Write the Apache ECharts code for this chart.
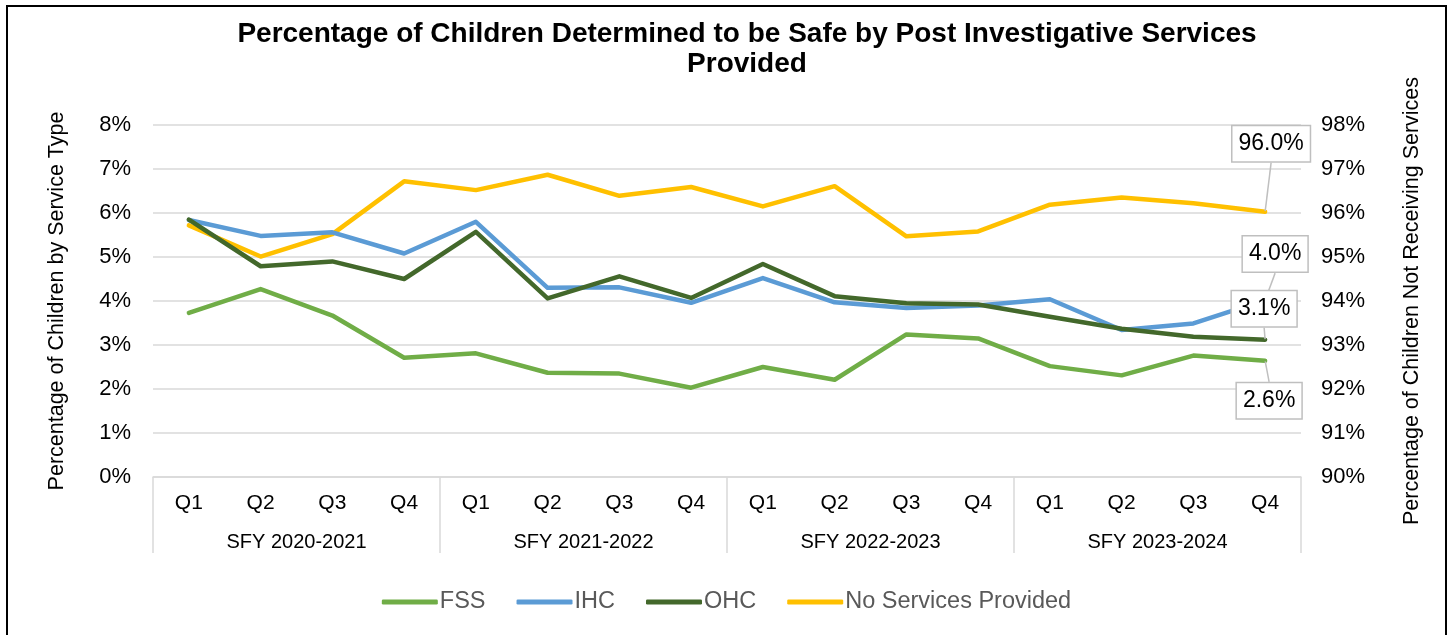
<!DOCTYPE html>
<html>
<head>
<meta charset="utf-8">
<script src="https://cdn.jsdelivr.net/npm/echarts@6/dist/echarts.min.js"></script>
<style>
html,body{margin:0;padding:0;background:#fff;}
#wrap{position:relative;width:1453px;height:635px;overflow:hidden;}
#chart{position:absolute;left:0;top:0;width:1453px;height:635px;}
#frame{position:absolute;left:6px;top:5px;width:1441px;height:660px;border:2px solid #000;box-sizing:border-box;pointer-events:none;}
</style>
</head>
<body>
<div id="wrap"><div id="chart"></div><div id="frame"></div></div>
<script>
const quarters = ['Q1','Q2','Q3','Q4','Q1','Q2','Q3','Q4','Q1','Q2','Q3','Q4','Q1','Q2','Q3','Q4'];
const fiscalYears = ['SFY 2020-2021','SFY 2021-2022','SFY 2022-2023','SFY 2023-2024'];
const leftTicks = [0, 8, 1];   // min, max, interval (%)
const rightTicks = [90, 98, 1];
const fss = [3.73, 4.27, 3.67, 2.71, 2.81, 2.37, 2.35, 2.03, 2.50, 2.21, 3.24, 3.15, 2.52, 2.31, 2.76, 2.64];
const ihc = [5.84, 5.48, 5.56, 5.08, 5.80, 4.30, 4.31, 3.96, 4.52, 3.97, 3.84, 3.90, 4.04, 3.34, 3.49, 4.02];
const ohc = [5.85, 4.79, 4.90, 4.50, 5.57, 4.06, 4.56, 4.07, 4.84, 4.11, 3.95, 3.92, 3.64, 3.37, 3.19, 3.12];
const noServices = [95.72, 95.01, 95.52, 96.72, 96.52, 96.87, 96.39, 96.59, 96.15, 96.61, 95.47, 95.58, 96.19, 96.35, 96.22, 96.03];

const FONT = '"Liberation Sans", Arial, sans-serif';
const GRID = '#d9d9d9';

function lastLabelData(arr){
  return arr.map((v,i)=> i===arr.length-1 ? {value:v, label:{show:true}} : v);
}
const labelBox = {
  show:false, position:'inside', formatter: p => p.value.toFixed(1)+'%',
  fontFamily: FONT, fontSize: 23, color:'#000', backgroundColor:'#fff',
  borderColor:'#bfbfbf', borderWidth:1.5, padding:[7,6,5,6]
};
function mkSeries(name, data, color, yIdx, dx, dy, z){
  return {
    name, type:'line', data:lastLabelData(data), yAxisIndex:yIdx, xAxisIndex:0,
    symbol:'circle', symbolSize:1, showSymbol:true,
    itemStyle:{color}, lineStyle:{color, width:4.5, cap:'round', join:'round'},
    label: Object.assign({}, labelBox),
    labelLayout: {dx, dy, hideOverlap:false},
    labelLine: {show:true, lineStyle:{color:'#bfbfbf', width:1.5}},
    z, animation:false, emphasis:{disabled:true}
  };
}

const chart = echarts.init(document.getElementById('chart'), null, {renderer:'canvas'});
chart.setOption({
  animation:false,
  title:{
    text:'Percentage of Children Determined to be Safe by Post Investigative Services\nProvided',
    left:742, textAlign:'center', top:14,
    textStyle:{fontFamily:FONT, fontWeight:'bold', fontSize:28, color:'#000', lineHeight:30}
  },
  legend:{
    bottom:16, left:'center', itemWidth:56, itemHeight:5, itemGap:31, icon:'roundRect',
    textStyle:{fontFamily:FONT, fontSize:23.5, color:'#595959', padding:[0,0,0,-3]},
    data:['FSS','IHC','OHC','No Services Provided']
  },
  grid:{left:153, right:152, top:125, bottom:158},
  xAxis:[
    {type:'category', data:quarters, position:'bottom', boundaryGap:true,
     axisLine:{show:false}, axisTick:{show:false},
     axisLabel:{interval:0, margin:16, fontFamily:FONT, fontSize:21, color:'#000'}},
    {type:'category', data:fiscalYears, position:'bottom', boundaryGap:true,
     axisLine:{show:true, lineStyle:{color:GRID, width:1.5}},
     axisTick:{show:true, length:76, interval:0, lineStyle:{color:GRID, width:1.5}},
     axisLabel:{interval:0, margin:55, fontFamily:FONT, fontSize:20, color:'#000'}}
  ],
  yAxis:[
    {type:'value', min:leftTicks[0], max:leftTicks[1], interval:leftTicks[2], position:'left',
     name:'Percentage of Children by Service Type', nameLocation:'middle', nameGap:85,
     nameTextStyle:{fontFamily:FONT, fontSize:21.5, color:'#000'},
     axisLine:{show:false}, axisTick:{show:false},
     splitLine:{show:true, lineStyle:{color:GRID, width:1.5}},
     axisLabel:{formatter:'{value}%', margin:22, fontFamily:FONT, fontSize:22, color:'#000'}},
    {type:'value', min:rightTicks[0], max:rightTicks[1], interval:rightTicks[2], position:'right',
     name:'Percentage of Children Not Receiving Services', nameLocation:'middle', nameGap:100,
     nameRotate:90,
     nameTextStyle:{fontFamily:FONT, fontSize:21.5, color:'#000'},
     axisLine:{show:false}, axisTick:{show:false}, splitLine:{show:false},
     axisLabel:{formatter:'{value}%', margin:20, fontFamily:FONT, fontSize:22, color:'#000'}}
  ],
  series:[
    mkSeries('FSS', fss, '#70AD47', 0, 4, 40, 3),
    mkSeries('IHC', ihc, '#5B9BD5', 0, 10, -46, 4),
    mkSeries('OHC', ohc, '#43682B', 0, -1, -31, 5),
    mkSeries('No Services Provided', noServices, '#FFC000', 1, 6, -68, 2)
  ]
});
</script>
</body>
</html>
